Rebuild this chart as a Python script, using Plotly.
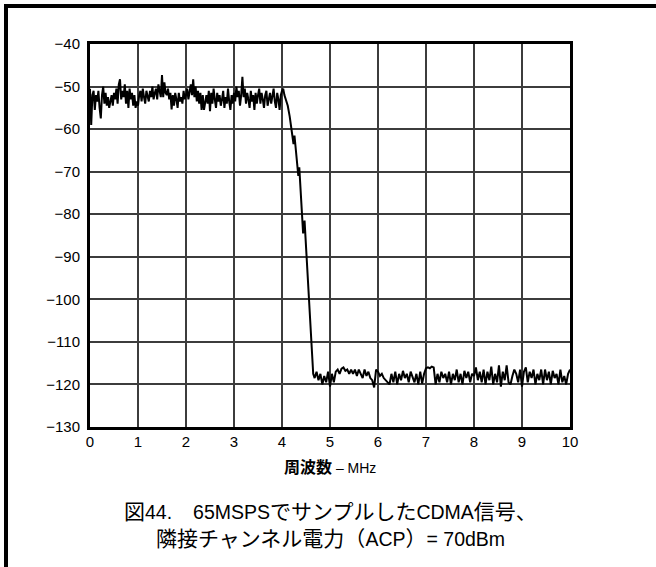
# CDMA signal spectrum sampled at 65 MSPS, recreated with Plotly
import numpy as np
import plotly.graph_objects as go

# ==== Data ====
# passband, 0 .. 4.05 MHz, 0.025 MHz step
pass_freq = np.round(np.arange(0.0, 4.0501, 0.025), 3)
pass_db = [
    -50.5, -59, -52, -51, -55.5, -52, -53.5, -51, -55, -57.5,
    -52, -50, -54, -51.5, -54.5, -52.5, -55, -53, -52, -54.5,
    -51.5, -53, -50.5, -54, -49.5, -48.3, -53, -51, -52.5, -49.5,
    -54, -51, -55, -50.5, -53, -51.5, -54.5, -52, -55, -53.5,
    -54.5, -52, -51, -53.5, -50.5, -52.5, -54, -51, -52, -53.5,
    -51, -52.5, -50, -53, -51.5, -50.5, -53, -49.5, -51, -52.5,
    -47.3, -52.5, -49, -51.5, -52, -50.5, -53, -51.5, -55.4, -52,
    -54.5, -51.5, -53, -55, -51.5, -53.5, -52.5, -54, -51, -53,
    -52, -50.5, -53, -51, -49.5, -52, -48.3, -52.5, -50, -53.5,
    -51, -54, -51.5, -55.5, -52, -55.5, -53, -52, -54, -51,
    -55.8, -51.5, -54, -50.5, -53, -55, -51.5, -53.5, -52, -54.5,
    -53, -51, -55, -52.5, -54, -50.5, -53.5, -55.5, -52, -54,
    -51.5, -53.5, -50, -52.5, -51, -54.5, -52, -47.7, -52.5, -50.5,
    -54, -51.5, -53, -55, -51, -53.5, -52, -55.5, -51.5, -54,
    -52, -50.5, -54, -51.5, -53, -55, -52, -51, -54.5, -52.5,
    -51.5, -54, -52, -50.5, -53.5, -55, -51.5, -53, -55.5, -52,
    -51, -50.5, -52,
]

# roll-off edge
edge_freq = [4.08, 4.12, 4.16, 4.20, 4.24, 4.26, 4.30, 4.34, 4.36, 4.40,
             4.44, 4.47, 4.50, 4.55, 4.60, 4.63, 4.65]
edge_db = [-53, -54.5, -57, -60.5, -63.5, -61.5, -66, -71, -69, -76,
           -84.5, -81.5, -88, -97, -107, -114, -117.5]

# stopband, 4.68 .. 10.00 MHz, 0.04 MHz step
stop_freq = np.round(np.linspace(4.68, 10.0, 134), 3)
stop_db = [
    -118.5, -117, -119, -117.5, -120, -118, -119.5, -117, -120.5, -117.5,
    -119.5, -117, -116.5, -117.5, -116.3, -116, -116.8, -116.5, -117.5, -116.5,
    -117.5, -116.5, -118, -116.5, -117.5, -118.5, -116.5, -118, -117, -118.5,
    -119, -120.7, -116.5, -117, -118, -117.5, -118.5, -119, -119.5, -120,
    -117.5, -119.5, -117, -120, -117.5, -119, -116.8, -118.5, -117.5, -119.5,
    -117, -118.5, -119.5, -117.5, -120, -117, -119.8, -117.5, -116.2, -116,
    -116.2, -115.8, -116, -120, -117.5, -119.5, -117, -118.5, -117.5, -119.5,
    -117, -120, -117.5, -119, -116.5, -119.5, -117.5, -120, -116.8, -118.5,
    -117, -119.5, -117.5, -118, -116, -119, -117, -119.5, -116.5, -120,
    -117, -119, -115.8, -120, -117.5, -119.5, -115.5, -120.5, -117, -119,
    -115.5, -119.5, -120, -118, -116.5, -117.5, -119.5, -116.5, -120.5, -117,
    -116, -119.5, -117, -118.5, -116.5, -120, -117.5, -119, -116.5, -120,
    -116.5, -119, -117, -120, -116.8, -118.5, -117.5, -120, -116.5, -119.5,
    -118, -120, -117.5, -116.5,
]

freq = list(pass_freq) + edge_freq + list(stop_freq)
power = pass_db + edge_db + stop_db

x_ticks = list(range(0, 11))
y_ticks = list(range(-130, -39, 10))

FONT = "Liberation Sans, Arial, Noto Sans CJK JP, sans-serif"
GRID = "#3c3c3c"

# ==== Figure ====
fig = go.Figure()
fig.add_trace(go.Scatter(
    x=freq, y=power, mode="lines",
    line=dict(color="black", width=2),
    showlegend=False,
))

axis_common = dict(
    showgrid=True, gridcolor=GRID, gridwidth=2,
    showline=True, linecolor="black", linewidth=3, mirror=True,
    zeroline=False, ticks="",
    tickfont=dict(family=FONT, size=15, color="black"),
)
fig.update_xaxes(range=[0, 10], tickvals=x_ticks, ticklabelstandoff=-1, **axis_common)
fig.update_yaxes(range=[-130, -40], tickvals=y_ticks, ticklabelstandoff=4, **axis_common)

# plot area 90..570 px wide, 44..427 px tall
L, R, T, B = 90, 570, 44, 427
W, H = 656, 567


def px(x):
    return (x - L) / (R - L)


def py(y):
    return (B - y) / (B - T)


def cjk(s):
    return f"<span style='font-size:21px'>{s}</span>"


line1 = cjk("図") + "44." + cjk("　") + "65MSPS" + cjk("でサンプルした") + "CDMA" + cjk("信号、")
line2 = cjk("隣接チャンネル電力（") + "ACP" + cjk("）") + "= 70dBm"

annotations = [
    dict(text="<b><span style='font-size:16px'>周波数</span></b> – MHz",
         x=0.5, y=py(467), xref="paper", yref="paper", showarrow=False,
         font=dict(family=FONT, size=14, color="black"), yanchor="middle"),
    dict(text=line1,
         x=0.5, y=py(512), xref="paper", yref="paper", showarrow=False,
         font=dict(family=FONT, size=19.5, color="black"), yanchor="middle"),
    dict(text=line2,
         x=0.5, y=py(538), xref="paper", yref="paper", showarrow=False,
         font=dict(family=FONT, size=19.5, color="black"), yanchor="middle"),
]

# frame around the figure (left and top edges)
shapes = [
    dict(type="line", xref="paper", yref="paper",
         x0=px(6), x1=px(6), y0=py(4), y1=py(H + 10),
         line=dict(color="black", width=4)),
    dict(type="line", xref="paper", yref="paper",
         x0=px(4), x1=px(W + 10), y0=py(6), y1=py(6),
         line=dict(color="black", width=4)),
]

fig.update_layout(
    width=W, height=H,
    margin=dict(l=L, r=W - R, t=T, b=H - B),
    paper_bgcolor="white", plot_bgcolor="white",
    font=dict(family=FONT, color="black"),
    annotations=annotations,
    shapes=shapes,
)

# drop the default 8px page margin so the figure sits at the window corner
fig.write_html("out.html", config={"displayModeBar": False},
               post_script="document.body.style.margin='0';")
